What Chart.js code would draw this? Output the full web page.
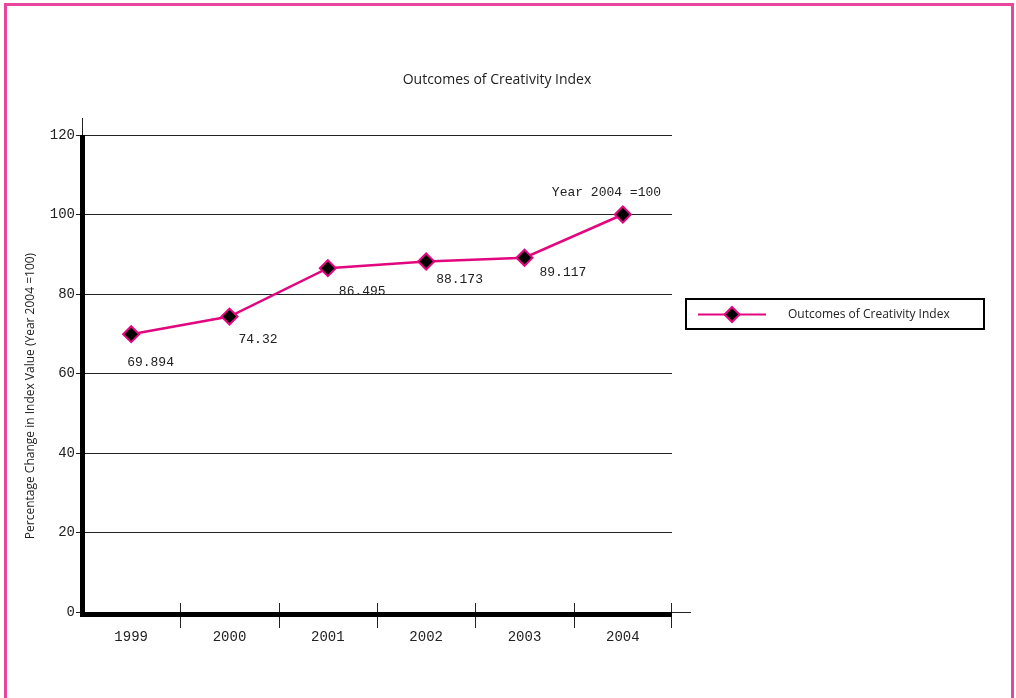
<!DOCTYPE html>
<html>
<head>
<meta charset="utf-8">
<script src="https://cdn.jsdelivr.net/npm/chart.js@4/dist/chart.umd.min.js"></script>
<style>
  html, body { margin: 0; padding: 0; background: #fff; }
  #wrap { position: relative; width: 1016px; height: 698px; overflow: hidden; }
  #frame { position: absolute; left: 4px; top: 3px; width: 1010px; height: 720px;
           border: 3px solid #e8459e; border-bottom: none; box-sizing: border-box; }
  canvas { position: absolute; left: 0; top: 0; }
</style>
</head>
<body>
<div id="wrap">
  <div id="frame"></div>
  <canvas id="myChart" width="1016" height="698"></canvas>
</div>
<script>
var years = ['1999', '2000', '2001', '2002', '2003', '2004'];
var indexValues = [69.894, 74.32, 86.495, 88.173, 89.117, 100];
var pointLabels = ['69.894', '74.32', '86.495', '88.173', '89.117', 'Year 2004 =100'];
var yTicks = [0, 20, 40, 60, 80, 100, 120];

var seriesName = 'Outcomes of Creativity Index';
var pink = '#e2067f';
var mono = '"Liberation Mono", "DejaVu Sans Mono", monospace';
var sans = '"Open Sans", "Noto Sans", sans-serif';

// where each value label sits relative to its point
var labelShift = [[-4, 28], [9, 23], [11, 23], [10, 18], [15, 15], [-71, -22]];

var decorations = {
    id: 'decorations',
    afterDraw: function (chart) {
        var c = chart.ctx;
        var a = chart.chartArea;
        var x = chart.scales.x;
        c.save();

        // title
        c.fillStyle = '#222';
        c.font = '14px ' + sans;
        c.textAlign = 'center';
        c.textBaseline = 'middle';
        c.fillText(seriesName, 497, 80);

        // y axis title
        c.save();
        c.translate(31, 396);
        c.rotate(-Math.PI / 2);
        c.font = '12px ' + sans;
        c.fillText('Percentage Change in Index Value (Year 2004 =100)', 0, 0);
        c.restore();

        // thin axis extensions
        c.strokeStyle = '#222';
        c.lineWidth = 1;
        c.beginPath();
        c.moveTo(a.left + 0.5, a.top - 17);
        c.lineTo(a.left + 0.5, a.top);
        c.moveTo(a.right, a.bottom + 0.5);
        c.lineTo(a.right + 19, a.bottom + 0.5);
        c.stroke();

        // category separators
        c.beginPath();
        for (var i = 1; i <= years.length; i++) {
            var bx = Math.round((x.getPixelForValue(i - 1) + x.getPixelForValue(i)) / 2) + 0.5;
            if (i === years.length) bx = Math.round(a.right) - 0.5;
            c.moveTo(bx, a.bottom - 9);
            c.lineTo(bx, a.bottom + 16);
        }
        c.stroke();

        // thick axes
        c.fillStyle = '#000';
        c.fillRect(a.left - 2, a.top, 5, a.bottom - a.top + 5);
        c.fillRect(a.left - 2, a.bottom, a.right - a.left + 2, 5);

        // value labels
        var meta = chart.getDatasetMeta(0);
        c.fillStyle = '#222';
        c.font = '13px ' + mono;
        c.textAlign = 'left';
        meta.data.forEach(function (pt, k) {
            c.fillText(pointLabels[k], pt.x + labelShift[k][0], pt.y + labelShift[k][1]);
        });

        // legend box
        c.strokeStyle = '#000';
        c.lineWidth = 2;
        c.strokeRect(686, 299, 298, 30);
        c.strokeStyle = pink;
        c.lineWidth = 2;
        c.beginPath();
        c.moveTo(698, 314.5);
        c.lineTo(766, 314.5);
        c.stroke();
        c.beginPath();
        c.moveTo(732, 307);
        c.lineTo(739.5, 314.5);
        c.lineTo(732, 322);
        c.lineTo(724.5, 314.5);
        c.closePath();
        c.fillStyle = '#000';
        c.fill();
        c.stroke();
        c.fillStyle = '#222';
        c.font = '12px ' + sans;
        c.textAlign = 'left';
        c.fillText(seriesName, 788, 315);

        c.restore();
    }
};

var ctx = document.getElementById('myChart').getContext('2d');
var myChart = new Chart(ctx, {
    type: 'line',
    data: {
        labels: years,
        datasets: [{
            label: seriesName,
            data: indexValues,
            fill: false,
            borderColor: pink,
            backgroundColor: '#000',
            borderWidth: 2.5,
            tension: 0,
            pointStyle: 'rectRot',
            pointRadius: 8,
            pointHoverRadius: 8,
            pointBorderColor: pink,
            pointBackgroundColor: '#000',
            pointBorderWidth: 2
        }]
    },
    options: {
        responsive: false,
        animation: false,
        events: [],
        layout: { padding: { left: 0, top: 135, right: 344, bottom: 46 } },
        plugins: {
            legend: { display: false },
            title: { display: false },
            tooltip: { enabled: false }
        },
        scales: {
            x: {
                offset: true,
                grid: { display: false },
                border: { display: false },
                ticks: {
                    padding: 9,
                    color: '#222',
                    font: { family: mono, size: 14 }
                },
                afterFit: function (s) { s.height = 40; }
            },
            y: {
                min: 0,
                max: 120,
                afterBuildTicks: function (s) {
                    s.ticks = yTicks.map(function (v) { return { value: v }; });
                },
                grid: {
                    color: '#222',
                    lineWidth: 1,
                    tickLength: 6,
                    tickColor: '#222'
                },
                border: { display: false },
                ticks: {
                    padding: 1,
                    color: '#222',
                    font: { family: mono, size: 14 }
                },
                afterFit: function (s) { s.width = 82; }
            }
        }
    },
    plugins: [decorations]
});
</script>
</body>
</html>
